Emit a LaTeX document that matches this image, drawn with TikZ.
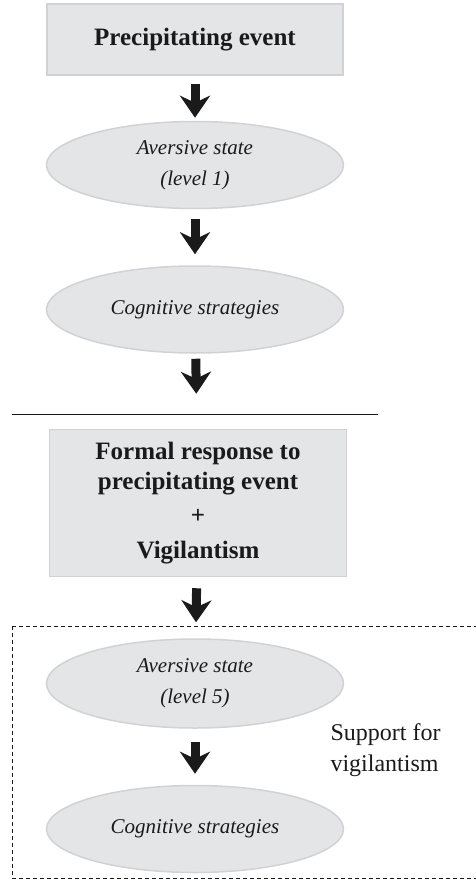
\documentclass[tikz,border=0pt]{standalone}
\usepackage{fontspec}
\setmainfont{Liberation Serif}
\usetikzlibrary{arrows.meta,positioning,shapes.geometric}
\definecolor{boxgray}{RGB}{228,229,231}
\definecolor{edgegray}{RGB}{210,210,212}
\definecolor{inkblack}{RGB}{26,26,26}

\begin{document}
\begin{tikzpicture}[x=1pt, y=1pt,
  eventbox/.style={draw=edgegray, line width=1.5pt, fill=boxgray, minimum width=296pt, inner sep=0pt, align=center, text=inkblack, font=\fontsize{25}{30}\selectfont\bfseries},
  stateoval/.style={ellipse, draw=edgegray, line width=1.5pt, fill=boxgray, minimum width=297pt, minimum height=87pt, inner sep=0pt, align=center, text=inkblack, font=\fontsize{21}{31}\selectfont\itshape},
  fatarrow/.style={draw=inkblack, line width=9pt, -{Stealth[width=30pt,length=22pt,inset=7pt]}}]
\useasboundingbox (0,0) rectangle (476,-880);
% first stage
\node[eventbox, minimum height=71pt] (ev) at (195,-39.5) {Precipitating event};
\node[stateoval, below=45pt of ev] (av1) {Aversive state\\(level 1)};
\node[stateoval, below=56pt of av1] (cog1) {Cognitive strategies};
% second stage
\node[eventbox, minimum width=297pt, minimum height=147pt, below=75pt of cog1, xshift=3pt] (resp) {Formal response to\\precipitating event\\[4pt]+\\[5pt]Vigilantism};
\node[stateoval, minimum height=89pt, below=61pt of resp, xshift=-3pt] (av5) {Aversive state\\(level 5)};
\node[stateoval, below=56pt of av5] (cog5) {Cognitive strategies};
\node[anchor=west, align=left, text=inkblack, font=\fontsize{24}{31}\selectfont] (supp) at (327,-750) {Support for\\vigilantism};
% arrows
\draw[fatarrow, shorten <=8pt, shorten >=3pt] (ev) -- (av1);
\draw[fatarrow, shorten <=10pt, shorten >=11pt] (av1) -- (cog1);
\draw[fatarrow, shorten <=5pt, shorten >=35pt] (cog1) -- (resp);
\draw[fatarrow, shorten <=11pt, shorten >=16pt] (resp) -- (av5);
\draw[fatarrow, shorten <=13pt, shorten >=11pt] (av5) -- (cog5);
% divider and frame
\draw[inkblack, line width=1pt] (12,-414) -- (378,-414);
\draw[inkblack, line width=0.8pt, dash pattern=on 4pt off 3pt] (12,-626) rectangle (490,-878);
\end{tikzpicture}
\end{document}
